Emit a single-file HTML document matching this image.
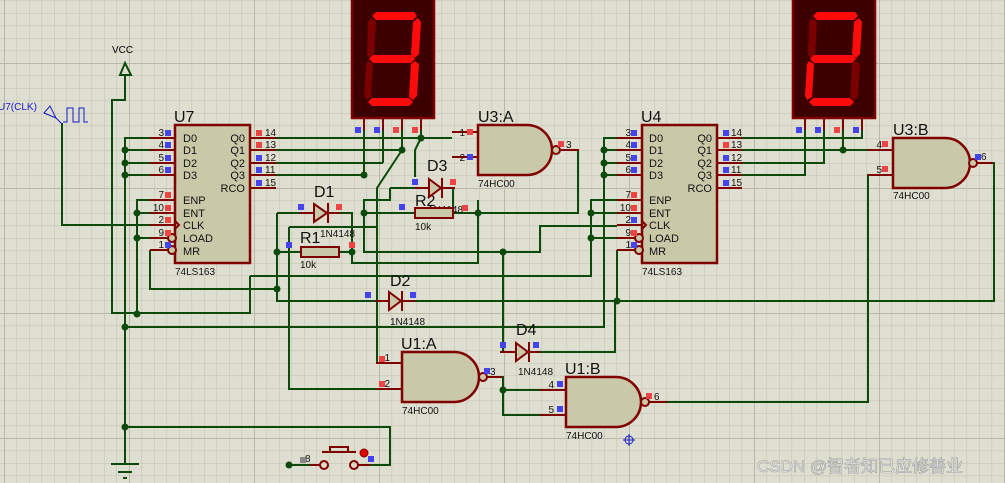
<!DOCTYPE html>
<html><head><meta charset="utf-8"><style>
html,body{margin:0;padding:0;background:#dfdfd1;}
svg{display:block;font-family:"Liberation Sans",Arial,sans-serif;}
</style></head><body>
<svg width="1005" height="483" viewBox="0 0 1005 483" xmlns="http://www.w3.org/2000/svg">
<defs>
<pattern id="mg" x="4" y="0.5" width="12.5" height="12.5" patternUnits="userSpaceOnUse">
<path d="M0 0H12.5M0 0V12.5" stroke="#c6c6b6" stroke-width="1.2" fill="none"/>
</pattern>
<pattern id="Mg" x="4" y="63" width="125" height="125" patternUnits="userSpaceOnUse">
<path d="M0 0H125M0 0V125" stroke="#b9b9aa" stroke-width="2" fill="none"/>
</pattern>
</defs>
<rect width="1005" height="483" fill="#dfdfd1"/>
<rect width="1005" height="483" fill="url(#mg)"/>
<rect width="1005" height="483" fill="url(#Mg)"/>

<!-- WIRES -->
<g stroke="#0c4a0c" stroke-width="2" fill="none">
<!-- VCC -->
<path d="M125 75V100H112V313H250V276"/>
<!-- clk -->
<path d="M62 123V225H175"/>
<!-- left data bus U7 -->
<path d="M150 138H125V464"/>
<path d="M125 150H150M125 163H150M125 175H150"/>
<path d="M150 200H137V314M137 213H150M137 238H150"/>
<path d="M150 250V289H277"/>
<path d="M250 276H591V200H617M591 213H617M591 238H617"/>
<!-- Q outputs U7 -->
<path d="M276 138H452M276 150H402M276 163H383M276 175H364"/>
<path d="M364 130V175M383 130V163M402 130V150M421 130V138"/>
<path d="M402 150L377 188V363H401"/>
<path d="M421 138L415 150V177"/>
<path d="M390 188H427M390 188V200H364V252H540V226H617"/>
<path d="M440 188H453V213"/>
<path d="M364 213H415M453 213H578V150H561"/>
<path d="M478 200V263H352V213H328"/>
<path d="M277 213H313M277 213V301H387M277 252H300M339 252H352"/>
<path d="M289 227H377M289 227V389H401"/>
<path d="M503 252V352H515"/>
<path d="M529 352H615V301"/>
<path d="M402 301H994V163H977"/>
<path d="M125 327H604V138H617M604 150H617M604 163H617M604 175H617"/>
<path d="M617 250V301"/>
<!-- U1 -->
<path d="M487 377H503V415H540M503 390H540"/>
<path d="M649 402H868V175H881"/>
<!-- U4 Q -->
<path d="M742 138H862V130M742 150H868M843 130V150M742 163H824V130M742 175H805V130"/>
<!-- ground/switch -->
<path d="M125 427H390V465H366"/>
<path d="M289 465H320"/>
</g>
<!-- junctions -->
<g fill="#0c4a0c">
<circle cx="125" cy="150" r="3.5"/><circle cx="125" cy="163" r="3.5"/><circle cx="125" cy="175" r="3.5"/>
<circle cx="137" cy="213" r="3.5"/><circle cx="137" cy="238" r="3.5"/><circle cx="137" cy="314" r="3.5"/>
<circle cx="125" cy="327" r="3.5"/><circle cx="125" cy="427" r="3.5"/>
<circle cx="277" cy="252" r="3.5"/><circle cx="277" cy="289" r="3.5"/><circle cx="352" cy="252" r="3.5"/>
<circle cx="364" cy="175" r="3.5"/><circle cx="402" cy="150" r="3.5"/><circle cx="421" cy="138" r="3.5"/>
<circle cx="364" cy="213" r="3.5"/><circle cx="478" cy="213" r="3.5"/><circle cx="503" cy="252" r="3.5"/>
<circle cx="591" cy="213" r="3.5"/><circle cx="591" cy="238" r="3.5"/>
<circle cx="604" cy="150" r="3.5"/><circle cx="604" cy="163" r="3.5"/><circle cx="604" cy="175" r="3.5"/>
<circle cx="617" cy="301" r="3.5"/><circle cx="843" cy="150" r="3.5"/>
<circle cx="503" cy="390" r="3.5"/><circle cx="289" cy="465" r="3.5"/>
</g>
<!-- ground symbol -->
<g stroke="#0c4a0c" stroke-width="2"><path d="M111 464H139M118 472H132M123 478H127"/></g>
<!-- VCC -->
<path d="M120 75L125 63L131 75Z" fill="none" stroke="#0c4a0c" stroke-width="2"/>
<text x="112" y="53" font-size="10" fill="#000">VCC</text>
<!-- CLK generator -->
<text x="-2" y="110" font-size="10" fill="#1a1acc">U7(CLK)</text>
<path d="M44 113L50 106L56 118Z M56 118L62 124" fill="none" stroke="#1a1acc" stroke-width="1"/>
<path d="M63 122H67V108H73V122H79V108H84V122H88" fill="none" stroke="#1a1acc" stroke-width="1"/>

<!-- component pins (maroon) -->
<g stroke="#800000" stroke-width="2" fill="none">
<path d="M150 138H175M150 150H175M150 163H175M150 175H175M150 200H175M150 213H175M150 225H175M150 238H168M150 250H168"/>
<path d="M250 138H276M250 150H276M250 163H276M250 175H276M250 188H276"/>
<path d="M617 138H642M617 150H642M617 163H642M617 175H642M617 200H642M617 213H642M617 225H642M617 238H635M617 250H635"/>
<path d="M717 138H742M717 150H742M717 163H742M717 175H742M717 188H742"/>
<path d="M364 118V130M383 118V130M402 118V130M421 118V130"/>
<path d="M805 118V130M824 118V130M843 118V130M862 118V130"/>
<path d="M452 132H478M452 157H478M561 150H579"/>
<path d="M868 150H893M868 175H893M977 163H993"/>
<path d="M376 363H401M376 389H401M487 377H502"/>
<path d="M540 390H566M540 415H566M649 402H667"/>
</g>
<!-- chips -->
<g stroke="#800000" stroke-width="2.5" fill="#c9c9a9">
<rect x="175" y="125" width="75" height="138"/>
<rect x="642" y="125" width="75" height="138"/>
<path d="M478 125H527A25 25 0 0 1 527 175H478Z"/>
<path d="M893 138H945A25 25 0 0 1 945 188H893Z"/>
<path d="M402 352H454A25 25 0 0 1 454 402H402Z"/>
<path d="M566 377H616A25 25 0 0 1 616 427H566Z"/>
</g>
<g stroke="#800000" stroke-width="2" fill="#c9c9a9">
<circle cx="172" cy="238" r="4"/><circle cx="172" cy="250" r="4"/>
<circle cx="639" cy="238" r="4"/><circle cx="639" cy="250" r="4"/>
<circle cx="556" cy="150" r="4"/><circle cx="973" cy="163" r="4"/>
<circle cx="483" cy="377" r="4"/><circle cx="645" cy="402" r="4"/>
<path d="M175 221L179 225L175 229M642 221L646 225L642 229" fill="none"/>
</g>
<!-- chip text -->
<g font-size="11" fill="#111">
<text x="183" y="142">D0</text><text x="183" y="154">D1</text><text x="183" y="167">D2</text><text x="183" y="179">D3</text>
<text x="183" y="204">ENP</text><text x="183" y="217">ENT</text><text x="183" y="229">CLK</text><text x="183" y="242">LOAD</text><text x="183" y="255">MR</text>
<text x="245" y="142" text-anchor="end">Q0</text><text x="245" y="154" text-anchor="end">Q1</text><text x="245" y="167" text-anchor="end">Q2</text><text x="245" y="179" text-anchor="end">Q3</text><text x="245" y="192" text-anchor="end">RCO</text>
<text x="649" y="142">D0</text><text x="649" y="154">D1</text><text x="649" y="167">D2</text><text x="649" y="179">D3</text>
<text x="649" y="204">ENP</text><text x="649" y="217">ENT</text><text x="649" y="229">CLK</text><text x="649" y="242">LOAD</text><text x="649" y="255">MR</text>
<text x="712" y="142" text-anchor="end">Q0</text><text x="712" y="154" text-anchor="end">Q1</text><text x="712" y="167" text-anchor="end">Q2</text><text x="712" y="179" text-anchor="end">Q3</text><text x="712" y="192" text-anchor="end">RCO</text>
</g>
<g font-size="10" fill="#111">
<text x="164" y="136" text-anchor="end">3</text><text x="164" y="148" text-anchor="end">4</text><text x="164" y="161" text-anchor="end">5</text><text x="164" y="173" text-anchor="end">6</text>
<text x="164" y="198" text-anchor="end">7</text><text x="164" y="211" text-anchor="end">10</text><text x="164" y="223" text-anchor="end">2</text><text x="164" y="236" text-anchor="end">9</text><text x="164" y="248" text-anchor="end">1</text>
<text x="265" y="136">14</text><text x="265" y="148">13</text><text x="265" y="161">12</text><text x="265" y="173">11</text><text x="265" y="186">15</text>
<text x="631" y="136" text-anchor="end">3</text><text x="631" y="148" text-anchor="end">4</text><text x="631" y="161" text-anchor="end">5</text><text x="631" y="173" text-anchor="end">6</text>
<text x="631" y="198" text-anchor="end">7</text><text x="631" y="211" text-anchor="end">10</text><text x="631" y="223" text-anchor="end">2</text><text x="631" y="236" text-anchor="end">9</text><text x="631" y="248" text-anchor="end">1</text>
<text x="731" y="136">14</text><text x="731" y="148">13</text><text x="731" y="161">12</text><text x="731" y="173">11</text><text x="731" y="186">15</text>
<text x="465" y="136" text-anchor="end">1</text><text x="465" y="161" text-anchor="end">2</text><text x="566" y="148">3</text>
<text x="882" y="148" text-anchor="end">4</text><text x="882" y="173" text-anchor="end">5</text><text x="981" y="160">6</text>
<text x="390" y="361" text-anchor="end">1</text><text x="390" y="387" text-anchor="end">2</text><text x="490" y="375">3</text>
<text x="554" y="388" text-anchor="end">4</text><text x="554" y="413" text-anchor="end">5</text><text x="654" y="400">6</text>
<text x="175" y="275">74LS163</text><text x="642" y="275">74LS163</text>
<text x="478" y="187">74HC00</text><text x="893" y="199">74HC00</text>
<text x="402" y="414">74HC00</text><text x="566" y="439">74HC00</text>
<text x="320" y="237">1N4148</text><text x="390" y="325">1N4148</text><text x="428" y="213">1N4148</text><text x="518" y="375">1N4148</text>
<text x="300" y="268">10k</text><text x="415" y="230">10k</text>
<text x="305" y="462">8</text>
</g>
<g font-size="16" fill="#111">
<text x="174" y="122">U7</text><text x="641" y="122">U4</text>
<text x="478" y="122">U3:A</text><text x="893" y="135">U3:B</text>
<text x="401" y="349">U1:A</text><text x="565" y="374">U1:B</text>
<text x="314" y="197">D1</text><text x="390" y="286">D2</text><text x="427" y="171">D3</text><text x="516" y="335">D4</text>
<text x="300" y="243">R1</text><text x="415" y="206">R2</text>
</g>
<!-- diodes -->
<g stroke="#800000" stroke-width="2" fill="#c9c9a9">
<path d="M300 213H313M328 213H340"/><path d="M314 204L327 213L314 222Z"/><path d="M328 203V223"/>
<path d="M375 301H388M402 301H415"/><path d="M389 292L401 301L389 310Z"/><path d="M402 291V311"/>
<path d="M415 188H428M442 188H455"/><path d="M429 179L441 188L429 197Z"/><path d="M442 178V198"/>
<path d="M500 352H515M529 352H540"/><path d="M516 343L528 352L516 361Z"/><path d="M529 342V362"/>
<rect x="301" y="247" width="38" height="10"/><rect x="415" y="208" width="38" height="10"/>
</g>
<!-- switch -->
<g stroke="#800000" stroke-width="2" fill="none">
<path d="M310 465H320M358 465H370"/>
<circle cx="324" cy="465" r="4"/><circle cx="354" cy="465" r="4"/>
<path d="M322 452H356M330 452V447H348V452"/>
</g>
<circle cx="364" cy="453" r="4" fill="#e00000" stroke="#800000"/>
<!-- pin dots -->
<g fill="#4343f0">
<rect x="165" y="130" width="6" height="6"/><rect x="165" y="142" width="6" height="6"/><rect x="165" y="155" width="6" height="6"/><rect x="165" y="167" width="6" height="6"/><rect x="165" y="242" width="6" height="6"/>
<rect x="256" y="155" width="6" height="6"/><rect x="256" y="167" width="6" height="6"/><rect x="256" y="180" width="6" height="6"/>
<rect x="631" y="130" width="6" height="6"/><rect x="631" y="142" width="6" height="6"/><rect x="631" y="155" width="6" height="6"/><rect x="631" y="167" width="6" height="6"/><rect x="631" y="217" width="6" height="6"/><rect x="631" y="242" width="6" height="6"/>
<rect x="723" y="130" width="6" height="6"/><rect x="723" y="155" width="6" height="6"/><rect x="723" y="167" width="6" height="6"/><rect x="723" y="180" width="6" height="6"/>
<rect x="355" y="127" width="6" height="6"/><rect x="374" y="127" width="6" height="6"/>
<rect x="796" y="127" width="6" height="6"/><rect x="815" y="127" width="6" height="6"/><rect x="853" y="127" width="6" height="6"/>
<rect x="467" y="154" width="6" height="6"/><rect x="975" y="154" width="6" height="6"/>
<rect x="298" y="204" width="6" height="6"/><rect x="286" y="242" width="6" height="6"/>
<rect x="365" y="292" width="6" height="6"/><rect x="410" y="292" width="6" height="6"/>
<rect x="412" y="179" width="6" height="6"/><rect x="399" y="204" width="6" height="6"/>
<rect x="500" y="342" width="6" height="6"/><rect x="533" y="342" width="6" height="6"/>
<rect x="484" y="368" width="6" height="6"/><rect x="557" y="381" width="6" height="6"/><rect x="557" y="406" width="6" height="6"/>
<rect x="368" y="456" width="6" height="6"/>
</g>
<g fill="#f04343">
<rect x="165" y="192" width="6" height="6"/><rect x="165" y="205" width="6" height="6"/><rect x="165" y="217" width="6" height="6"/><rect x="165" y="230" width="6" height="6"/>
<rect x="256" y="130" width="6" height="6"/><rect x="256" y="142" width="6" height="6"/>
<rect x="631" y="192" width="6" height="6"/><rect x="631" y="205" width="6" height="6"/><rect x="631" y="230" width="6" height="6"/>
<rect x="723" y="142" width="6" height="6"/>
<rect x="393" y="127" width="6" height="6"/><rect x="412" y="127" width="6" height="6"/><rect x="834" y="127" width="6" height="6"/>
<rect x="467" y="129" width="6" height="6"/><rect x="558" y="141" width="6" height="6"/>
<rect x="882" y="141" width="6" height="6"/><rect x="882" y="166" width="6" height="6"/>
<rect x="336" y="204" width="6" height="6"/><rect x="349" y="242" width="6" height="6"/>
<rect x="450" y="179" width="6" height="6"/><rect x="462" y="205" width="6" height="6"/>
<rect x="253" y="158" width="0" height="0"/>
<rect x="379" y="356" width="6" height="6"/><rect x="379" y="381" width="6" height="6"/>
<rect x="646" y="393" width="6" height="6"/>
</g>
<rect x="300" y="457" width="6" height="6" fill="#888"/>
<!-- displays -->
<g stroke="#800000" stroke-width="2.5"><rect x="352" y="-2" width="82" height="120" fill="#3d0000"/><rect x="793" y="-2" width="82" height="120" fill="#3d0000"/></g>
<g>
<!-- digit 3 -->
<polygon points="376,12 414,12 417,16 413,20 376,20 372,16" fill="#ff0b0b"/>
<polygon points="371,18 376,22 374,55 369,58 367,54 368,22" fill="#7a0000"/>
<polygon points="418,18 421,22 419,54 415,58 411,54 413,22" fill="#ff0b0b"/>
<polygon points="373,55 412,55 415,59 411,63 373,63 369,59" fill="#ff0b0b"/>
<polygon points="368,61 373,64 371,97 366,100 364,96 366,64" fill="#7a0000"/>
<polygon points="415,61 419,64 417,96 413,100 409,97 411,64" fill="#ff0b0b"/>
<polygon points="372,98 409,98 413,102 409,106 372,106 368,102" fill="#ff0b0b"/>
<!-- digit 2 -->
<polygon points="817,12 855,12 858,16 854,20 817,20 813,16" fill="#ff0b0b"/>
<polygon points="812,18 817,22 815,55 810,58 808,54 809,22" fill="#7a0000"/>
<polygon points="859,18 862,22 860,54 856,58 852,54 854,22" fill="#ff0b0b"/>
<polygon points="814,55 853,55 856,59 852,63 814,63 810,59" fill="#ff0b0b"/>
<polygon points="809,61 814,64 812,97 807,100 805,96 807,64" fill="#ff0b0b"/>
<polygon points="856,61 860,64 858,96 854,100 850,97 852,64" fill="#7a0000"/>
<polygon points="813,98 850,98 854,102 850,106 813,106 809,102" fill="#ff0b0b"/>
</g>
<!-- origin marker -->
<g stroke="#1a1acc" stroke-width="1" fill="none"><circle cx="629" cy="440" r="4"/><path d="M623 440H635M629 434V446"/></g>
<!-- watermark -->
<text x="757" y="472" font-size="17" fill="#f4f4f4" stroke="#9a9a9a" stroke-width="0.6" font-family="'Liberation Sans','Noto Sans CJK SC',sans-serif">CSDN @智者知已应修善业</text>
</svg>
</body></html>
